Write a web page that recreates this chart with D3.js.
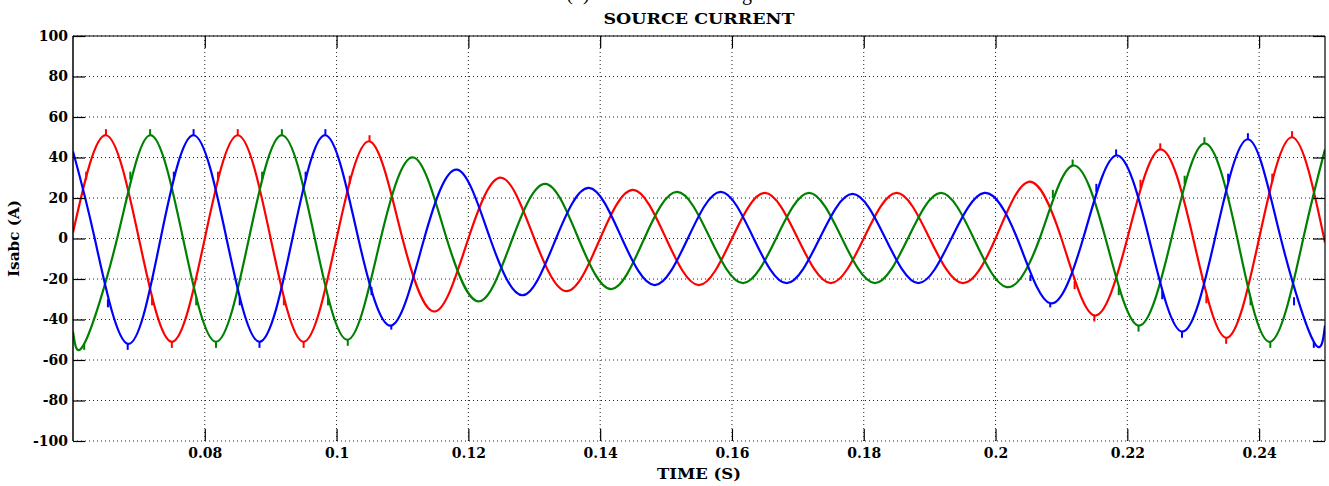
<!DOCTYPE html>
<html>
<head>
<meta charset="utf-8">
<script src="https://cdn.jsdelivr.net/npm/d3@7"></script>
<style>
body{margin:0;background:#fff;}
svg{display:block;}
.tick text{font-family:"DejaVu Serif",serif;font-weight:bold;font-size:14px;fill:#000;}
.lbl{font-family:"DejaVu Serif",serif;font-weight:bold;fill:#000;}
</style>
</head>
<body>
<svg id="chart" width="1329" height="486"></svg>
<script>
// ejes
var xTicks = [0.08, 0.1, 0.12, 0.14, 0.16, 0.18, 0.2, 0.22, 0.24];
var yTicks = [-100, -80, -60, -40, -20, 0, 20, 40, 60, 80, 100];

// fase a (rojo): picos y cruces por cero [t, A]
var faseA = [
	[0.06, 3], [0.065, 51], [0.07, 0], [0.075, -51], [0.08, 0], [0.085, 51], [0.09, 0],
	[0.095, -51], [0.1, 0], [0.105, 48], [0.11, 0], [0.115, -36], [0.12, 0], [0.125, 30],
	[0.13, 0], [0.135, -26], [0.14, 0], [0.145, 24], [0.15, 0], [0.155, -23], [0.16, 0],
	[0.165, 22.5], [0.17, 0], [0.175, -22], [0.18, 0], [0.185, 22.5], [0.19, 0], [0.195, -22],
	[0.2, 0], [0.205, 28], [0.21, 0], [0.215, -38], [0.22, 0], [0.225, 44], [0.23, 0],
	[0.235, -49], [0.24, 0], [0.245, 50], [0.25, -2]
];
// fase b (verde)
var faseB = [
	[0.06, -46], [0.0617, -52], [0.0667, 0], [0.0717, 51], [0.0767, 0], [0.0817, -51],
	[0.0867, 0], [0.0917, 51], [0.0967, 0], [0.1017, -50], [0.1067, 0], [0.1117, 40],
	[0.1167, 0], [0.1217, -31], [0.1267, 0], [0.1317, 27], [0.1367, 0], [0.1417, -25],
	[0.1467, 0], [0.1517, 23], [0.1567, 0], [0.1617, -22], [0.1667, 0], [0.1717, 22.5],
	[0.1767, 0], [0.1817, -22], [0.1867, 0], [0.1917, 22.5], [0.1967, 0], [0.2017, -24],
	[0.2067, 0], [0.2117, 36], [0.2167, 0], [0.2217, -43], [0.2267, 0], [0.2317, 47],
	[0.2367, 0], [0.2417, -51], [0.2467, 0], [0.25, 44]
];
// fase c (azul)
var faseC = [
	[0.06, 43], [0.0633, 0], [0.0683, -52], [0.0733, 0], [0.0783, 51], [0.0833, 0],
	[0.0883, -51], [0.0933, 0], [0.0983, 51], [0.1033, 0], [0.1083, -43], [0.1133, 0],
	[0.1183, 34], [0.1233, 0], [0.1283, -28], [0.1333, 0], [0.1383, 25], [0.1433, 0],
	[0.1483, -23], [0.1533, 0], [0.1583, 23], [0.1633, 0], [0.1683, -22], [0.1733, 0],
	[0.1783, 22], [0.1833, 0], [0.1883, -22], [0.1933, 0], [0.1983, 22.5], [0.2033, 0],
	[0.2083, -32], [0.2133, 0], [0.2183, 41], [0.2233, 0], [0.2283, -46], [0.2333, 0],
	[0.2383, 49], [0.2433, 0], [0.2483, -51], [0.25, -43]
];

// picos de conmutacion [t, desde, hasta]
var picosA = [
	[0.062, 29, 33], [0.065, 51, 54], [0.072, -29, -33], [0.075, -51, -54], [0.082, 29, 33],
	[0.085, 51, 54], [0.092, -29, -33], [0.095, -51, -54], [0.102, 27, 31], [0.105, 48, 51],
	[0.212, -21, -25], [0.215, -38, -41], [0.222, 25, 29], [0.225, 44, 47], [0.232, -28, -32],
	[0.235, -49, -52], [0.242, 28, 32], [0.245, 50, 53]
];
var picosB = [
	[0.0617, -52, -55], [0.0687, 29, 33], [0.0717, 51, 54], [0.0787, -29, -33], [0.0817, -51, -54],
	[0.0887, 29, 33], [0.0917, 51, 54], [0.0987, -29, -33], [0.1017, -50, -53], [0.2087, 20, 24],
	[0.2117, 36, 39], [0.2187, -24, -28], [0.2217, -43, -46], [0.2287, 27, 31], [0.2317, 47, 50],
	[0.2387, -29, -33], [0.2417, -51, -54]
];
var picosC = [
	[0.0653, -30, -34], [0.0683, -52, -55], [0.0753, 29, 33], [0.0783, 51, 54], [0.0853, -29, -33],
	[0.0883, -51, -54], [0.0953, 29, 33], [0.0983, 51, 54], [0.1053, -24, -28], [0.1083, -43, -45],
	[0.2053, -18, -21], [0.2083, -32, -34], [0.2153, 23, 27], [0.2183, 41, 44], [0.2253, -26, -30],
	[0.2283, -46, -49], [0.2353, 28, 32], [0.2383, 49, 52], [0.2453, -29, -33], [0.2483, -51, -54]
];

var series = [
	{pts: faseA, picos: picosA, color: "#ff0000"},
	{pts: faseB, picos: picosB, color: "#008000"},
	{pts: faseC, picos: picosC, color: "#0000ff"}
];

var svg = d3.select("#chart");
var margin = {top: 36, right: 4, bottom: 45, left: 73},
	width = +svg.attr("width") - margin.left - margin.right,
	height = +svg.attr("height") - margin.top - margin.bottom;

var x = d3.scaleLinear().domain([0.06, 0.25]).range([0, width]);
var y = d3.scaleLinear().domain([-100, 100]).range([height, 0]);

var g = svg.append("g")
	.attr("transform", "translate(" + margin.left + "," + margin.top + ")");

g.append("clipPath").attr("id", "clip")
	.append("rect").attr("width", width).attr("height", height);

// rejilla punteada
g.selectAll(".gx").data(xTicks).enter().append("line")
	.attr("x1", function(d) { return x(d); }).attr("x2", function(d) { return x(d); })
	.attr("y1", 0).attr("y2", height)
	.attr("stroke", "#222").attr("stroke-width", 1).attr("stroke-dasharray", "1,3");
g.selectAll(".gy").data(yTicks).enter().append("line")
	.attr("x1", 0).attr("x2", width)
	.attr("y1", function(d) { return y(d); }).attr("y2", function(d) { return y(d); })
	.attr("stroke", "#222").attr("stroke-width", 1).attr("stroke-dasharray", "1,3");

// curvas
var line = d3.line()
	.x(function(d) { return x(d[0]); })
	.y(function(d) { return y(d[1]); })
	.curve(d3.curveNatural);

var plot = g.append("g").attr("clip-path", "url(#clip)");
series.forEach(function(s) {
	plot.append("path")
		.datum(s.pts)
		.attr("fill", "none")
		.attr("stroke", s.color)
		.attr("stroke-width", 2.2)
		.attr("stroke-linejoin", "round")
		.attr("d", line);
	plot.selectAll(null).data(s.picos).enter().append("line")
		.attr("x1", function(d) { return x(d[0]); }).attr("x2", function(d) { return x(d[0]); })
		.attr("y1", function(d) { return y(d[1]); }).attr("y2", function(d) { return y(d[2]); })
		.attr("stroke", s.color).attr("stroke-width", 2);
});

// ejes con marcas hacia adentro
var axB = g.append("g").attr("transform", "translate(0," + height + ")")
	.call(d3.axisBottom(x).tickValues(xTicks).tickFormat(function(d) { return String(d); })
		.tickSize(-12).tickPadding(7));
var axL = g.append("g")
	.call(d3.axisLeft(y).tickValues(yTicks).tickFormat(function(d) { return String(d); })
		.tickSize(-12).tickPadding(5));
var axT = g.append("g")
	.call(d3.axisTop(x).tickValues(xTicks).tickFormat("").tickSize(-12));
var axR = g.append("g").attr("transform", "translate(" + width + ",0)")
	.call(d3.axisRight(y).tickValues(yTicks).tickFormat("").tickSize(-12));

[axB, axL, axT, axR].forEach(function(a) {
	a.select(".domain").remove();
	a.selectAll(".tick line").attr("stroke", "#000").attr("stroke-width", 1.2);
});

// marco (abajo queda punteado como en la figura)
g.append("line").attr("x1", 0).attr("x2", 0).attr("y1", 0).attr("y2", height)
	.attr("stroke", "#000").attr("stroke-width", 1.5);
g.append("line").attr("x1", 0).attr("x2", width).attr("y1", 0).attr("y2", 0)
	.attr("stroke", "#000").attr("stroke-width", 1.2);
g.append("line").attr("x1", width).attr("x2", width).attr("y1", 0).attr("y2", height)
	.attr("stroke", "#000").attr("stroke-width", 1.2);

// textos
svg.append("text").attr("class", "lbl")
	.attr("x", margin.left + width / 2).attr("y", 24)
	.attr("text-anchor", "middle").attr("font-size", 15)
	.attr("textLength", 191).attr("lengthAdjust", "spacingAndGlyphs")
	.text("SOURCE CURRENT");

svg.append("text").attr("class", "lbl")
	.attr("x", margin.left + width / 2).attr("y", 479)
	.attr("text-anchor", "middle").attr("font-size", 15)
	.attr("textLength", 84).attr("lengthAdjust", "spacingAndGlyphs")
	.text("TIME (S)");

svg.append("text").attr("class", "lbl")
	.attr("transform", "translate(19," + (margin.top + height / 2) + ") rotate(-90)")
	.attr("text-anchor", "middle").attr("font-size", 14)
	.attr("textLength", 77).attr("lengthAdjust", "spacingAndGlyphs")
	.text("Isabc (A)");

// titulo de la subfigura, cortado arriba como en la figura
svg.append("text")
	.attr("x", 578).attr("y", 0)
	.attr("text-anchor", "middle")
	.attr("font-family", "Liberation Serif, serif").attr("font-size", 20)
	.text("(b)");
svg.append("text")
	.attr("x", 752).attr("y", 0)
	.attr("text-anchor", "end")
	.attr("font-family", "Liberation Serif, serif").attr("font-size", 20)
	.text("Load Switching");
</script>
</body>
</html>
